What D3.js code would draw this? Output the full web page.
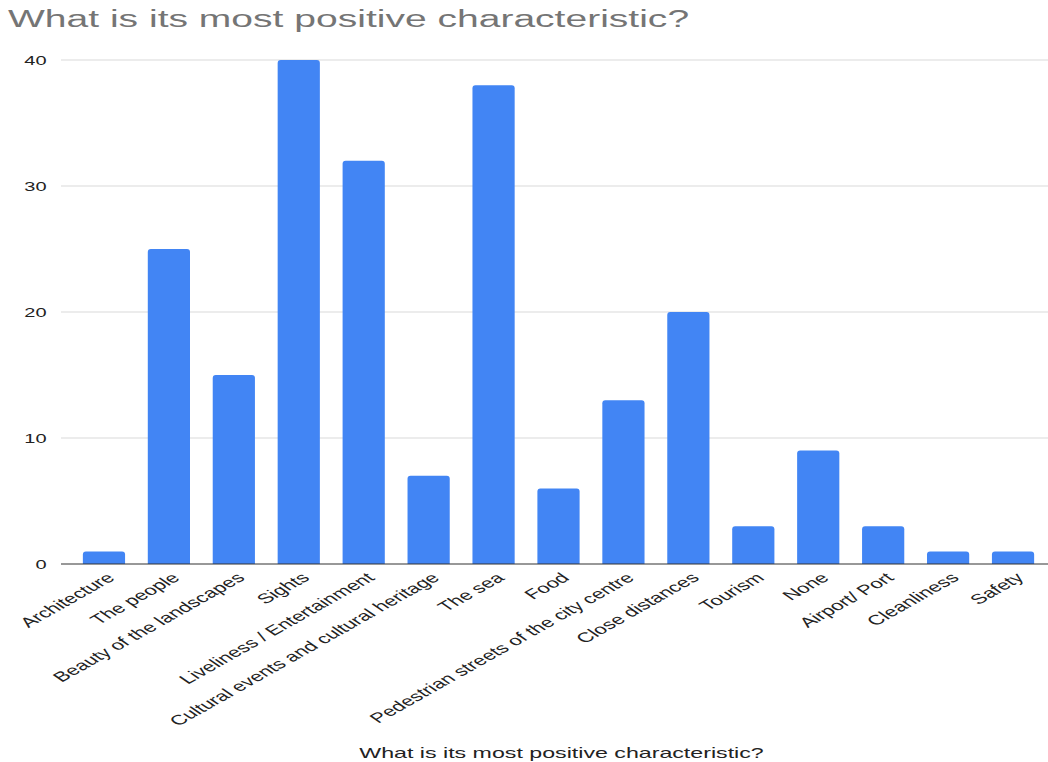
<!DOCTYPE html>
<html><head><meta charset="utf-8">
<script src="https://cdn.jsdelivr.net/npm/d3@7"></script>
<style>body{margin:0;background:#fff;}svg{display:block;font-family:"Liberation Sans",Arial,sans-serif;}</style>
</head><body>
<script>
const categories = ["Architecture","The people","Beauty of the landscapes","Sights","Liveliness / Entertainment","Cultural events and cultural heritage","The sea","Food","Pedestrian streets of the city centre","Close distances","Tourism","None","Airport/ Port","Cleanliness","Safety"];
const values = [1,25,15,40,32,7,38,6,13,20,3,9,3,1,1];
const yTicks = [0,10,20,30,40];
const title = "What is its most positive characteristic?";
const xTitle = "What is its most positive characteristic?";

const W = 1048, H = 762;
const SX = 1.6; // horizontal stretch of the text in the reference
const svg = d3.select("body").append("svg").attr("width", W).attr("height", H);
const y = d3.scaleLinear().domain([0,40]).range([564, 60]);
const x = d3.scaleBand().domain(categories).range([71.5, 1045.5]).paddingInner(0.35).paddingOuter(0.175);
const gridX0 = 61, gridX1 = 1048;

svg.append("text").attr("transform", `translate(8,27) scale(${SX},1)`)
  .attr("font-size", 24.4).attr("fill", "#757575").text(title);

const g = svg.append("g");
g.selectAll("line.grid").data(yTicks.filter(d => d > 0)).enter().append("line")
  .attr("x1", gridX0).attr("x2", gridX1).attr("y1", d => y(d)).attr("y2", d => y(d))
  .attr("stroke", "#d9d9d9").attr("stroke-width", 1);
g.selectAll("text.yt").data(yTicks).enter().append("text")
  .attr("transform", d => `translate(46.5,${y(d) + 4.5}) scale(${SX},1)`)
  .attr("text-anchor", "end")
  .attr("font-size", 12.5).attr("fill", "#222").text(d => d);

const bw = x.bandwidth();
g.selectAll("path.bar").data(categories).enter().append("path")
  .attr("fill", "#4285f4")
  .attr("d", (c, i) => {
    const x0 = x(c), x1 = x0 + bw, y0 = y(values[i]), yb = y(0), r = Math.min(3, (yb - y0));
    return `M${x0},${yb}V${y0 + r}Q${x0},${y0} ${x0 + r},${y0}H${x1 - r}Q${x1},${y0} ${x1},${y0 + r}V${yb}Z`;
  });

g.append("line").attr("x1", gridX0).attr("x2", gridX1).attr("y1", y(0)).attr("y2", y(0))
  .attr("stroke", "#333").attr("stroke-width", 1.2);

g.selectAll("text.xl").data(categories).enter().append("text")
  .attr("text-anchor", "end").attr("font-size", 13.8).attr("fill", "#222")
  .attr("transform", c => `translate(${x(c) + bw / 2 + 12},${y(0) + 15}) scale(${SX},1) rotate(-42)`)
  .text(c => c);

svg.append("text").attr("transform", `translate(561.5,758) scale(${SX},1)`).attr("text-anchor", "middle")
  .attr("font-size", 14.5).attr("fill", "#222").text(xTitle);
</script>
</body></html>
